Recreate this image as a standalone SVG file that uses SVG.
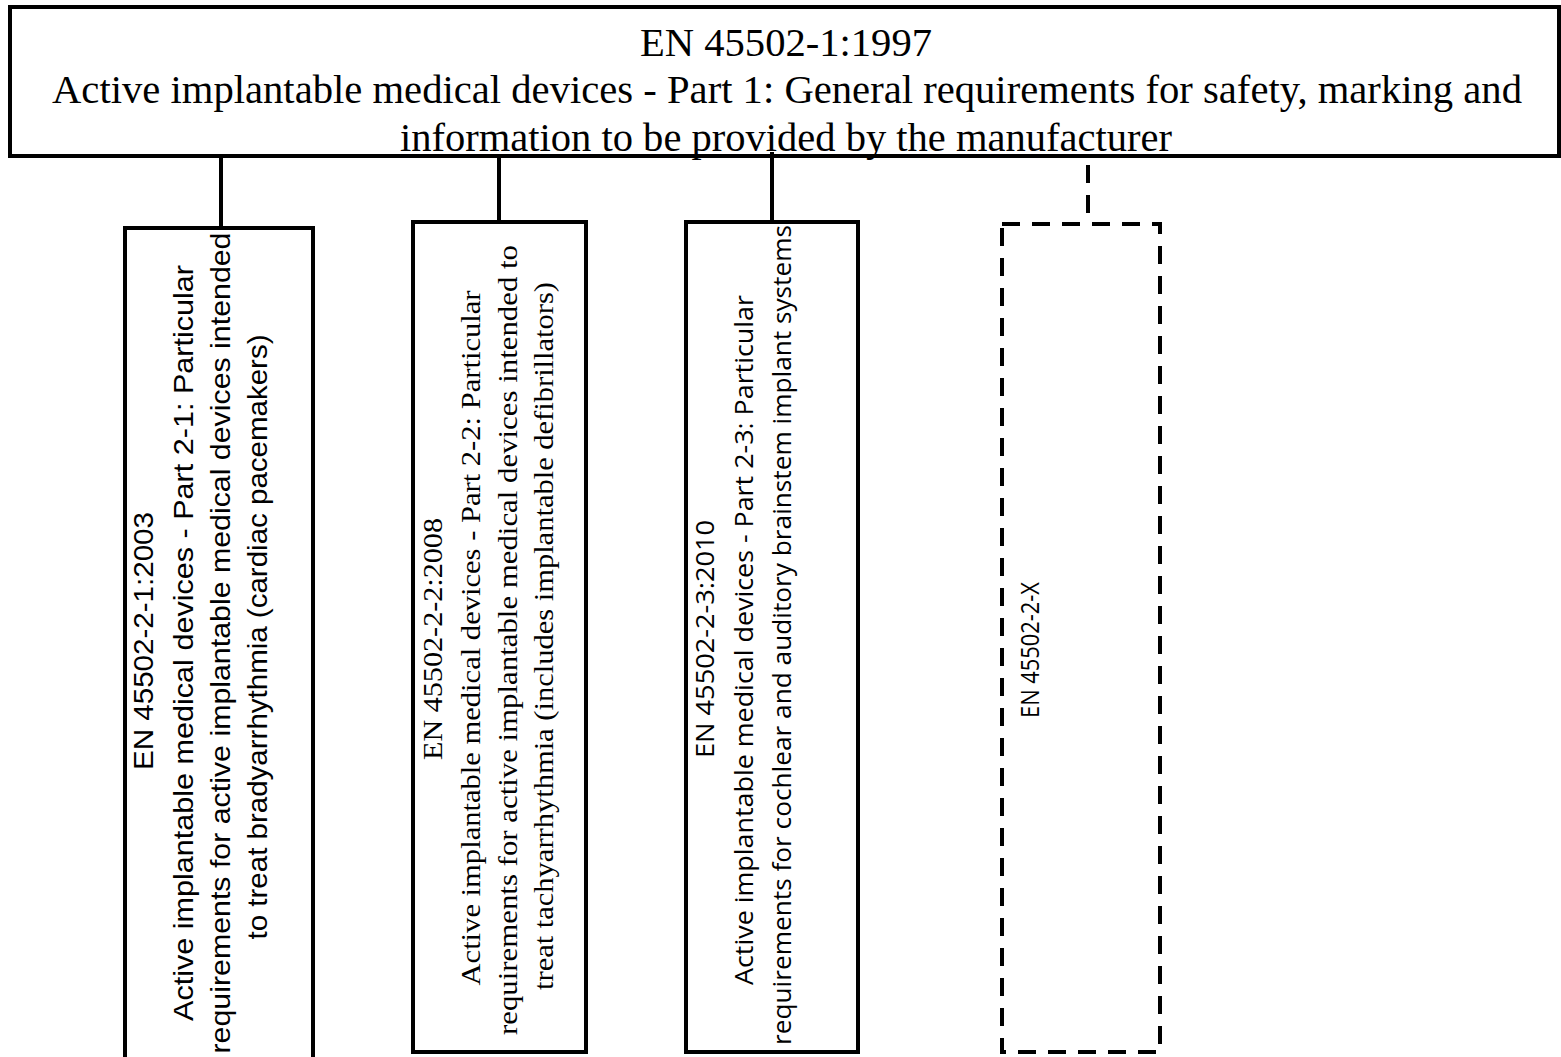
<svg xmlns="http://www.w3.org/2000/svg" width="1561" height="1057" viewBox="0 0 1561 1057">
<style>
.box{fill:none;stroke:#000;stroke-width:4}
.dash{fill:none;stroke:#000;stroke-width:4;stroke-dasharray:18 12}
.conn{stroke:#000;stroke-width:4;fill:none}
.serif{font-family:"Liberation Serif","Times New Roman",serif;fill:#000}
.sans{font-family:"Liberation Sans",Arial,sans-serif;fill:#000}
.cal{font-family:"Open Sans","Noto Sans",sans-serif;fill:#000}
</style>
<rect width="1561" height="1057" fill="#fff"/>
<g id="connectors">
<line class="conn" x1="221" y1="157" x2="221" y2="228"/>
<line class="conn" x1="499" y1="157" x2="499" y2="222"/>
<line class="conn" x1="772" y1="152" x2="772" y2="222"/>
<line class="dash" x1="1088" y1="165" x2="1088" y2="224"/>
</g>
<g id="root">
<rect class="box" x="10" y="7" width="1549" height="149"/>
<g class="serif" font-size="39" text-anchor="middle">
<text x="786" y="56" textLength="292" lengthAdjust="spacingAndGlyphs">EN 45502-1:1997</text>
<text x="787" y="103" textLength="1470" lengthAdjust="spacingAndGlyphs">Active implantable medical devices - Part 1: General requirements for safety, marking and</text>
<text x="786" y="151" textLength="772" lengthAdjust="spacingAndGlyphs">information to be provided by the manufacturer</text>
</g>
</g>
<g id="node-2-1">
<rect class="box" x="125" y="228" width="188" height="840"/>
<g class="sans" font-size="28" text-anchor="middle">
<text transform="translate(153,641) rotate(-90)" textLength="258" lengthAdjust="spacingAndGlyphs">EN 45502-2-1:2003</text>
<text transform="translate(193,643) rotate(-90)" textLength="756" lengthAdjust="spacingAndGlyphs">Active implantable medical devices - Part 2-1: Particular</text>
<text transform="translate(230,643) rotate(-90)" textLength="821" lengthAdjust="spacingAndGlyphs">requirements for active implantable medical devices intended</text>
<text transform="translate(267,637) rotate(-90)" textLength="605" lengthAdjust="spacingAndGlyphs">to treat bradyarrhythmia (cardiac pacemakers)</text>
</g>
</g>
<g id="node-2-2">
<rect class="box" x="413" y="222" width="173" height="830"/>
<g class="serif" font-size="27" text-anchor="middle">
<text transform="translate(442,639) rotate(-90)" textLength="242" lengthAdjust="spacingAndGlyphs">EN 45502-2-2:2008</text>
<text transform="translate(480,638) rotate(-90)" textLength="695" lengthAdjust="spacingAndGlyphs">Active implantable medical devices - Part 2-2: Particular</text>
<text transform="translate(517,640) rotate(-90)" textLength="790" lengthAdjust="spacingAndGlyphs">requirements for active implantable medical devices intended to</text>
<text transform="translate(553,636) rotate(-90)" textLength="708" lengthAdjust="spacingAndGlyphs">treat tachyarrhythmia (includes implantable defibrillators)</text>
</g>
</g>
<g id="node-2-3">
<rect class="box" x="686" y="222" width="172" height="830"/>
<g class="cal" font-size="26" text-anchor="middle">
<text transform="translate(714,639) rotate(-90)" textLength="238" lengthAdjust="spacingAndGlyphs">EN 45502-2-3:2010</text>
<text transform="translate(753,640) rotate(-90)" textLength="690" lengthAdjust="spacingAndGlyphs">Active implantable medical devices - Part 2-3: Particular</text>
<text transform="translate(791,635) rotate(-90)" textLength="820" lengthAdjust="spacingAndGlyphs">requirements for cochlear and auditory brainstem implant systems</text>
</g>
</g>
<g id="node-2-x">
<rect class="dash" x="1002" y="224" width="158" height="828"/>
<text class="cal" font-size="26" text-anchor="middle" transform="translate(1039,650) rotate(-90)" textLength="136" lengthAdjust="spacingAndGlyphs">EN 45502-2-X</text>
</g>
</svg>
